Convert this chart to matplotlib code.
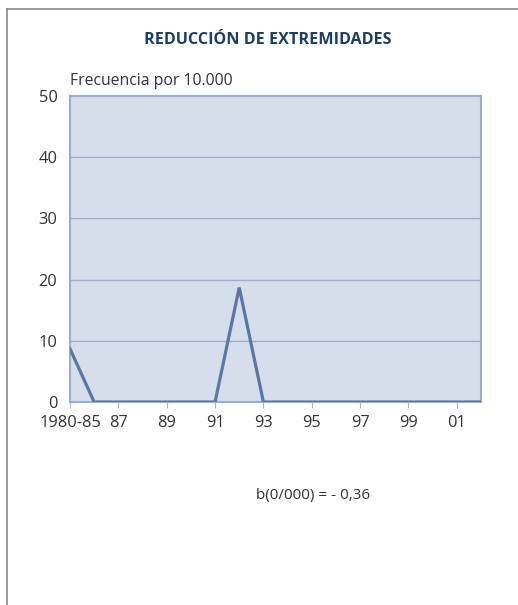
import matplotlib.pyplot as plt
from matplotlib.lines import Line2D

plt.rcParams['font.family'] = ['Open Sans', 'DejaVu Sans']

# Data
years = ["1980-85", "86", "87", "88", "89", "90", "91", "92", "93",
         "94", "95", "96", "97", "98", "99", "00", "01", "02"]
freq = [8.7, 0, 0, 0, 0, 0, 0, 18.7, 0, 0, 0, 0, 0, 0, 0, 0, 0, 0]
tick_labels = ["1980-85", "87", "89", "91", "93", "95", "97", "99", "01"]
y_ticks = [0, 10, 20, 30, 40, 50]

fig = plt.figure(figsize=(5.18, 6.05), dpi=100)
ax = fig.add_axes([0.1351, 0.3355, 0.7935, 0.5058])

x = list(range(len(years)))
ax.set_facecolor("#d6ddeb")
for v in y_ticks[1:-1]:
    ax.axhline(v, color="#9eacce", lw=1.0, zorder=1)
ax.plot(x, freq, color="#5b77a4", lw=2.3, zorder=3, solid_joinstyle="miter")

ax.set_xlim(0, len(years) - 1)
ax.set_ylim(0, 50)
ax.set_xticks(x[::2])
ax.set_xticklabels(tick_labels, fontsize=11.8, color="#333333")
ax.set_yticks(y_ticks)
ax.set_yticklabels([str(v) for v in y_ticks], fontsize=11.8, color="#333333")
ax.tick_params(axis="x", length=4, color="#a9b6d2", pad=5)
ax.tick_params(axis="y", length=0, pad=9)
for s in ax.spines.values():
    s.set_color("#9eacce")
    s.set_linewidth(1.5)

ax.text(0, 51.2, "Frecuencia por 10.000", fontsize=11.3, color="#333333",
        ha="left", va="bottom")

fig.text(0.5175, 0.934, "REDUCCIÓN DE EXTREMIDADES", fontsize=11.6,
         fontweight="bold", color="#1a3d6b", ha="center", va="center")
fig.text(0.604, 0.181, "b(0/000) = - 0,36", fontsize=11, color="#333333",
         ha="center", va="center")

# frame of the panel (top and left edges)
fig.add_artist(Line2D([0.0135, 1.0], [0.985, 0.985], transform=fig.transFigure,
                      color="#888888", lw=1.2))
fig.add_artist(Line2D([0.0135, 0.0135], [0.0, 0.985], transform=fig.transFigure,
                      color="#888888", lw=1.2))

fig.savefig("out.png", dpi=100)
